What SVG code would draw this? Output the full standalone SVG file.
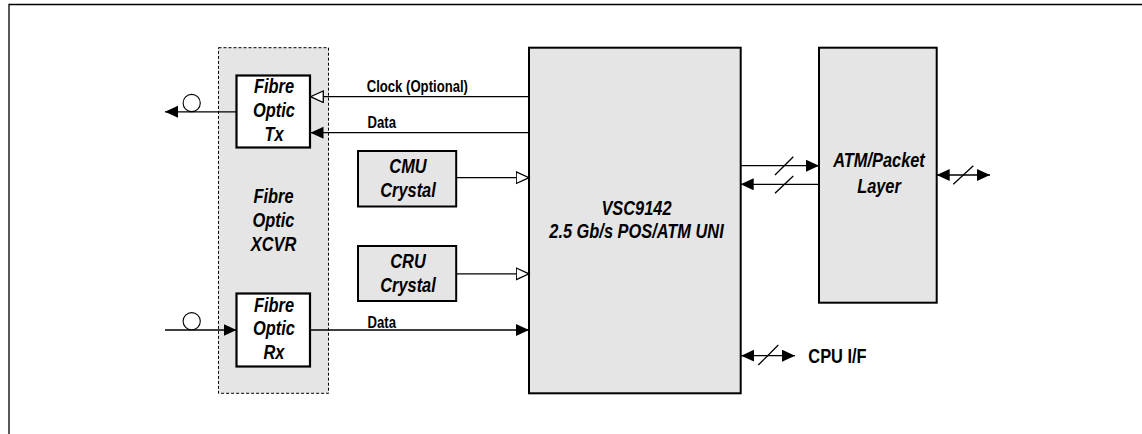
<svg xmlns="http://www.w3.org/2000/svg" width="1142" height="434" viewBox="0 0 1142 434">
<style>
.box{fill:#e5e5e5;stroke:#000;stroke-width:2}
.wbox{fill:#fff;stroke:#000;stroke-width:2.2}
.dash{fill:#e5e5e5;stroke:#000;stroke-width:1;stroke-dasharray:3,2}
.ln{fill:none;stroke:#000;stroke-width:1.3}
.t{font-family:"Liberation Sans",Arial,sans-serif;font-weight:bold;font-style:italic;font-size:20px;text-anchor:middle;fill:#000}
.lbl{font-family:"Liberation Sans",Arial,sans-serif;font-weight:bold;font-size:16px;fill:#000}
.cpu{font-family:"Liberation Sans",Arial,sans-serif;font-weight:bold;font-size:20px;fill:#000}
</style>
<defs>
<marker id="fa" markerUnits="userSpaceOnUse" markerWidth="14" markerHeight="13" refX="13" refY="6" orient="auto-start-reverse" viewBox="0 0 14 13">
<path d="M0,0 L13,6 L0,12 z" fill="#000"/>
</marker>
<marker id="oa" markerUnits="userSpaceOnUse" markerWidth="15" markerHeight="14" refX="13.5" refY="6.5" orient="auto" viewBox="0 0 15 14">
<path d="M0.7,0.7 L13.5,6.5 L0.7,12.3 z" fill="#fff" stroke="#000" stroke-width="1.3"/>
</marker>
</defs>
<rect width="1142" height="434" fill="#fff"/>
<g id="frame">
<path class="ln" d="M9,434 L9,4.5 L1142,4.5"/>
</g>
<g id="xcvr">
<rect class="dash" x="218.5" y="47.7" width="110" height="345.6"/>
<text class="t" transform="translate(273.5,0) scale(0.82,1)"><tspan x="0" y="203.3">Fibre</tspan><tspan x="0" y="227">Optic</tspan><tspan x="0" y="250.7">XCVR</tspan></text>
</g>
<g id="tx">
<rect class="wbox" x="236.5" y="75.5" width="73.5" height="72"/>
<text class="t" transform="translate(274,0) scale(0.82,1)"><tspan x="0" y="93.5">Fibre</tspan><tspan x="0" y="117.3">Optic</tspan><tspan x="0" y="141.2">Tx</tspan></text>
</g>
<g id="rx">
<rect class="wbox" x="236.5" y="293.5" width="73.5" height="73"/>
<text class="t" transform="translate(274,0) scale(0.82,1)"><tspan x="0" y="311.6">Fibre</tspan><tspan x="0" y="335.4">Optic</tspan><tspan x="0" y="359.3">Rx</tspan></text>
</g>
<g id="cmu">
<rect class="box" x="358" y="151" width="98.2" height="55.5"/>
<text class="t" transform="translate(408,0) scale(0.82,1)"><tspan x="0" y="172.7">CMU</tspan><tspan x="0" y="196.8">Crystal</tspan></text>
</g>
<g id="cru">
<rect class="box" x="358" y="246" width="98.2" height="55"/>
<text class="t" transform="translate(408,0) scale(0.82,1)"><tspan x="0" y="268">CRU</tspan><tspan x="0" y="292">Crystal</tspan></text>
</g>
<g id="vsc">
<rect class="box" x="529" y="47.7" width="211.7" height="345.6"/>
<text class="t" transform="translate(636.5,0) scale(0.82,1)"><tspan x="0" y="214.8">VSC9142</tspan><tspan x="0" y="237.6">2.5 Gb/s POS/ATM UNI</tspan></text>
</g>
<g id="atm">
<rect class="box" x="819" y="47.7" width="117.7" height="255"/>
<text class="t" transform="translate(879,0) scale(0.82,1)"><tspan x="0" y="167.3">ATM/Packet</tspan><tspan x="0" y="192.8">Layer</tspan></text>
</g>
<g id="connectors">
<line class="ln" x1="529" y1="96.7" x2="310.5" y2="96.7" marker-end="url(#oa)"/>
<text class="lbl" transform="translate(366.7,0) scale(0.82,1)" x="0" y="92.5">Clock (Optional)</text>
<line class="ln" x1="529" y1="132.7" x2="310.5" y2="132.7" marker-end="url(#fa)"/>
<text class="lbl" transform="translate(367.5,0) scale(0.82,1)" x="0" y="128.3">Data</text>
<line class="ln" x1="236.5" y1="111.8" x2="165" y2="111.8" marker-end="url(#fa)"/>
<circle cx="191.7" cy="103" r="8.6" fill="#fff" stroke="#000" stroke-width="1.1"/>
<line class="ln" x1="456.2" y1="177.7" x2="529" y2="177.7" marker-end="url(#oa)"/>
<line class="ln" x1="456.2" y1="273.8" x2="529" y2="273.8" marker-end="url(#oa)"/>
<line class="ln" x1="165" y1="330" x2="236.5" y2="330" marker-end="url(#fa)"/>
<circle cx="191.7" cy="321.2" r="8.6" fill="#fff" stroke="#000" stroke-width="1.1"/>
<line class="ln" x1="310" y1="330" x2="529" y2="330" marker-end="url(#fa)"/>
<text class="lbl" transform="translate(367.5,0) scale(0.82,1)" x="0" y="328.3">Data</text>
<line class="ln" x1="740.7" y1="165.7" x2="819" y2="165.7" marker-end="url(#fa)"/>
<line class="ln" x1="775" y1="175" x2="793.3" y2="156.7"/>
<line class="ln" x1="819" y1="184.3" x2="740.7" y2="184.3" marker-end="url(#fa)"/>
<line class="ln" x1="775" y1="193.3" x2="793.3" y2="176"/>
<line class="ln" x1="936.7" y1="175" x2="990" y2="175" marker-start="url(#fa)" marker-end="url(#fa)"/>
<line class="ln" x1="953.3" y1="184.3" x2="973.3" y2="165.7"/>
<line class="ln" x1="741.2" y1="355.7" x2="795" y2="355.7" marker-start="url(#fa)" marker-end="url(#fa)"/>
<line class="ln" x1="758.3" y1="365" x2="778.3" y2="345"/>
<text class="cpu" transform="translate(808.3,0) scale(0.82,1)" x="0" y="362.7">CPU I/F</text>
</g>
</svg>
